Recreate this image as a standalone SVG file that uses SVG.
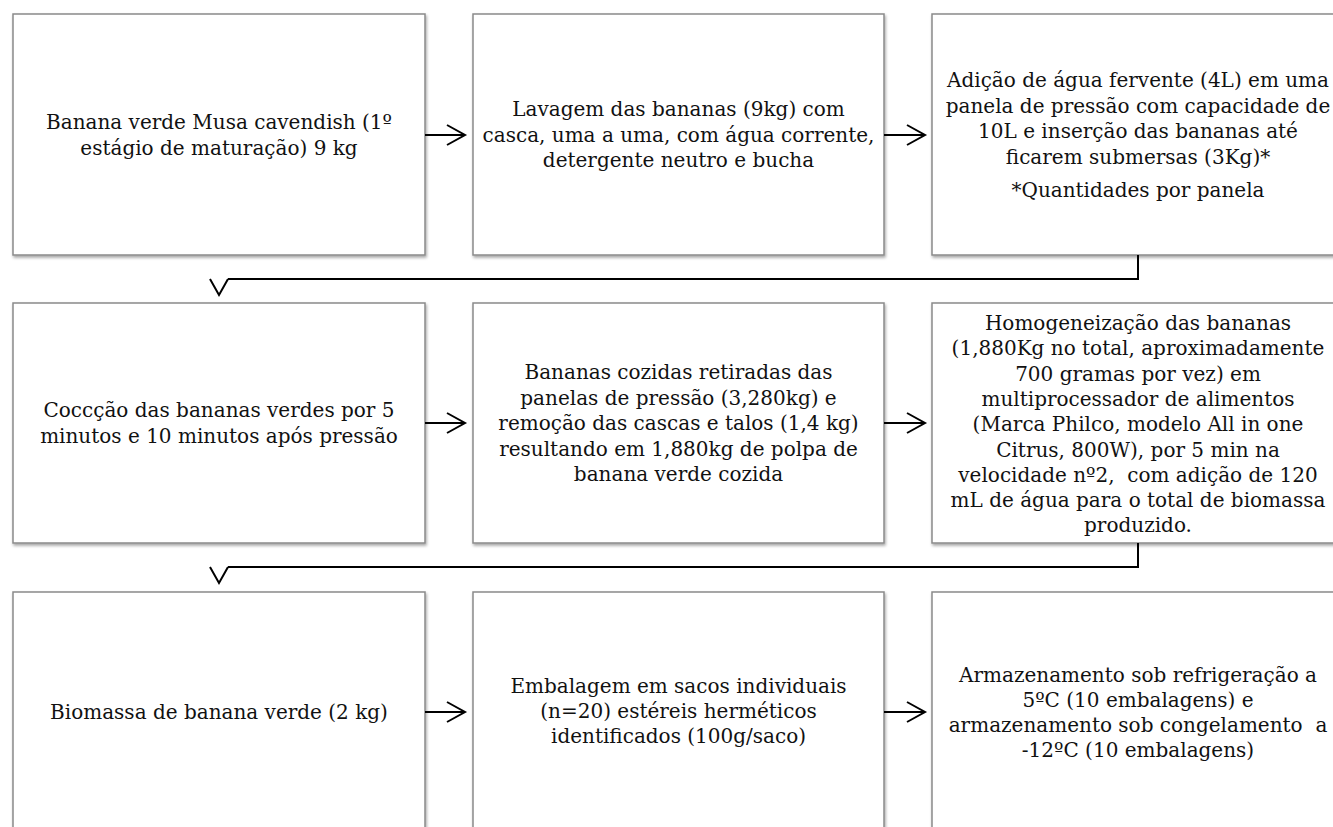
<svg xmlns="http://www.w3.org/2000/svg" width="1333" height="827" viewBox="0 0 1333 827">
<defs>
<filter id="sh" x="-5%" y="-5%" width="112%" height="112%">
<feDropShadow dx="1" dy="2" stdDeviation="1.5" flood-color="#000" flood-opacity="0.35"/>
</filter>
<style>
.box{fill:#fff;stroke:#8a8a8a;stroke-width:1.5;filter:url(#sh)}
.t{font-family:"DejaVu Serif","Liberation Serif",serif;font-size:20px;fill:#111;text-anchor:middle;white-space:pre}
.c{fill:none;stroke:#000;stroke-width:2}
</style>
</defs>
<rect width="1333" height="827" fill="#fff"/>

<g id="n1"><rect class="box" x="13" y="14" width="412" height="241"/>
<text class="t" x="219" y="129">Banana verde Musa cavendish (1º</text>
<text class="t" x="219" y="155">estágio de maturação) 9 kg</text></g>

<g id="n2"><rect class="box" x="473" y="14" width="411" height="241"/>
<text class="t" x="678.5" y="116">Lavagem das bananas (9kg) com</text>
<text class="t" x="678.5" y="141.5">casca, uma a uma, com água corrente,</text>
<text class="t" x="678.5" y="167">detergente neutro e bucha</text></g>

<g id="n3"><rect class="box" x="932" y="14" width="412" height="241"/>
<text class="t" x="1138" y="87">Adição de água fervente (4L) em uma</text>
<text class="t" x="1138" y="112.5">panela de pressão com capacidade de</text>
<text class="t" x="1138" y="138">10L e inserção das bananas até</text>
<text class="t" x="1138" y="163.5">ficarem submersas (3Kg)*</text>
<text class="t" x="1138" y="197">*Quantidades por panela</text></g>

<g id="n4"><rect class="box" x="13" y="303" width="412" height="240"/>
<text class="t" x="219" y="417">Coccção das bananas verdes por 5</text>
<text class="t" x="219" y="442.5">minutos e 10 minutos após pressão</text></g>

<g id="n5"><rect class="box" x="473" y="303" width="411" height="240"/>
<text class="t" x="678.5" y="379">Bananas cozidas retiradas das</text>
<text class="t" x="678.5" y="404.5">panelas de pressão (3,280kg) e</text>
<text class="t" x="678.5" y="430">remoção das cascas e talos (1,4 kg)</text>
<text class="t" x="678.5" y="455.5">resultando em 1,880kg de polpa de</text>
<text class="t" x="678.5" y="481">banana verde cozida</text></g>

<g id="n6"><rect class="box" x="932" y="303" width="412" height="240"/>
<text class="t" x="1138" y="330">Homogeneização das bananas</text>
<text class="t" x="1138" y="355.3">(1,880Kg no total, aproximadamente</text>
<text class="t" x="1138" y="380.6">700 gramas por vez) em</text>
<text class="t" x="1138" y="405.9">multiprocessador de alimentos</text>
<text class="t" x="1138" y="431.2">(Marca Philco, modelo All in one</text>
<text class="t" x="1138" y="456.5">Citrus, 800W), por 5 min na</text>
<text class="t" x="1138" y="481.8">velocidade nº2,  com adição de 120</text>
<text class="t" x="1138" y="507.1">mL de água para o total de biomassa</text>
<text class="t" x="1138" y="532.4">produzido.</text></g>

<g id="n7"><rect class="box" x="13" y="592" width="412" height="240"/>
<text class="t" x="219" y="719">Biomassa de banana verde (2 kg)</text></g>

<g id="n8"><rect class="box" x="473" y="592" width="411" height="240"/>
<text class="t" x="678.5" y="693">Embalagem em sacos individuais</text>
<text class="t" x="678.5" y="718">(n=20) estéreis herméticos</text>
<text class="t" x="678.5" y="743">identificados (100g/saco)</text></g>

<g id="n9"><rect class="box" x="932" y="592" width="412" height="240"/>
<text class="t" x="1138" y="682">Armazenamento sob refrigeração a</text>
<text class="t" x="1138" y="707">5ºC (10 embalagens) e</text>
<text class="t" x="1138" y="732">armazenamento sob congelamento  a</text>
<text class="t" x="1138" y="757">-12ºC (10 embalagens)</text></g>

<g id="connectors" class="c">
<path class="c" d="M425,135 H465 M447,125 L465,135 L447,145"/>
<path class="c" d="M884,135 H925 M907,125 L925,135 L907,145"/>
<path class="c" d="M1138,255 V279 H228 M210,279 L219,295 L228,279"/>
<path class="c" d="M425,423 H465 M447,413 L465,423 L447,433"/>
<path class="c" d="M884,423 H925 M907,413 L925,423 L907,433"/>
<path class="c" d="M1138,543 V567 H228 M210,567 L219,583 L228,567"/>
<path class="c" d="M425,712 H465 M447,702 L465,712 L447,722"/>
<path class="c" d="M884,712 H925 M907,702 L925,712 L907,722"/>
</g>
</svg>
